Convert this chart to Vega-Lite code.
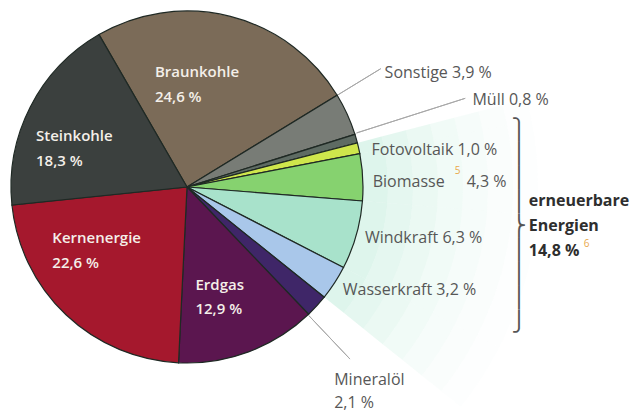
{
  "$schema": "https://vega.github.io/schema/vega-lite/v6.json",
  "width": 374,
  "height": 374,
  "autosize": {"type": "none"},
  "padding": {"left": 0, "top": 0, "right": 263, "bottom": 39},
  "background": "white",
  "config": {"view": {"stroke": null}, "font": "Open Sans"},
  "data": {
    "values": [
      {"name": "Braunkohle", "value": 24.6, "group": "konventionell"},
      {"name": "Sonstige", "value": 3.9, "group": "konventionell"},
      {"name": "Müll", "value": 0.8, "group": "konventionell"},
      {"name": "Fotovoltaik", "value": 1.0, "group": "erneuerbar"},
      {"name": "Biomasse", "value": 4.3, "group": "erneuerbar"},
      {"name": "Windkraft", "value": 6.3, "group": "erneuerbar"},
      {"name": "Wasserkraft", "value": 3.2, "group": "erneuerbar"},
      {"name": "Mineralöl", "value": 2.1, "group": "konventionell"},
      {"name": "Erdgas", "value": 12.9, "group": "konventionell"},
      {"name": "Kernenergie", "value": 22.6, "group": "konventionell"},
      {"name": "Steinkohle", "value": 18.3, "group": "konventionell"}
    ]
  },
  "transform": [
    {"window": [{"op": "row_number", "as": "idx"}]},
    {"joinaggregate": [{"op": "sum", "field": "value", "as": "groupSum"}], "groupby": ["group"]},
    {"calculate": "replace(format(datum.value, '.1f'), '.', ',') + ' %'", "as": "pct"},
    {"calculate": "datum.name + ' ' + datum.pct", "as": "lbl1"},
    {"calculate": "datum.name + '\\n' + datum.pct", "as": "lbl2"},
    {"calculate": "'erneuerbare\\nEnergien\\n' + replace(format(datum.groupSum, '.1f'), '.', ',') + ' %'", "as": "grp"}
  ],
  "encoding": {
    "theta": {"field": "value", "type": "quantitative", "stack": true, "scale": {"domain": [0, 100], "range": [-0.5236, 5.7596]}},
    "order": {"field": "idx", "type": "quantitative"}
  },
  "layer": [
    {"mark": {"type": "arc", "color": "#bdebd9", "strokeWidth": 0},
     "encoding": {"detail": {"field": "name"}, "radius": {"value": 201}, "radius2": {"value": 170},
       "opacity": {"condition": {"test": "datum.group === 'erneuerbar'", "value": 0.5}, "value": 0}}},
    {"mark": {"type": "arc", "color": "#bdebd9", "strokeWidth": 0},
     "encoding": {"detail": {"field": "name"}, "radius": {"value": 226}, "radius2": {"value": 201},
       "opacity": {"condition": {"test": "datum.group === 'erneuerbar'", "value": 0.4}, "value": 0}}},
    {"mark": {"type": "arc", "color": "#bdebd9", "strokeWidth": 0},
     "encoding": {"detail": {"field": "name"}, "radius": {"value": 251}, "radius2": {"value": 226},
       "opacity": {"condition": {"test": "datum.group === 'erneuerbar'", "value": 0.31}, "value": 0}}},
    {"mark": {"type": "arc", "color": "#bdebd9", "strokeWidth": 0},
     "encoding": {"detail": {"field": "name"}, "radius": {"value": 276}, "radius2": {"value": 251},
       "opacity": {"condition": {"test": "datum.group === 'erneuerbar'", "value": 0.22}, "value": 0}}},
    {"mark": {"type": "arc", "color": "#bdebd9", "strokeWidth": 0},
     "encoding": {"detail": {"field": "name"}, "radius": {"value": 301}, "radius2": {"value": 276},
       "opacity": {"condition": {"test": "datum.group === 'erneuerbar'", "value": 0.14}, "value": 0}}},
    {"mark": {"type": "arc", "color": "#bdebd9", "strokeWidth": 0},
     "encoding": {"detail": {"field": "name"}, "radius": {"value": 326}, "radius2": {"value": 301},
       "opacity": {"condition": {"test": "datum.group === 'erneuerbar'", "value": 0.08}, "value": 0}}},
    {"mark": {"type": "arc", "color": "#bdebd9", "strokeWidth": 0},
     "encoding": {"detail": {"field": "name"}, "radius": {"value": 351}, "radius2": {"value": 326},
       "opacity": {"condition": {"test": "datum.group === 'erneuerbar'", "value": 0.035}, "value": 0}}},
    {"mark": {"type": "arc", "stroke": "#1f2924", "strokeWidth": 1.2},
     "encoding": {
       "radius": {"value": 176},
       "color": {"field": "name", "type": "nominal", "legend": null,
         "scale": {
           "domain": ["Braunkohle", "Sonstige", "Müll", "Fotovoltaik", "Biomasse", "Windkraft", "Wasserkraft", "Mineralöl", "Erdgas", "Kernenergie", "Steinkohle"],
           "range": ["#7b6b58", "#787c76", "#5e6b63", "#cfe64c", "#86d26f", "#a8e2cb", "#a9c7ea", "#3f2668", "#5b164f", "#a5182d", "#3b403e"]
         }}
     }},
    {"mark": {"type": "arc", "fill": "transparent", "stroke": "#a8a8a8", "strokeWidth": 1, "padAngle": 3, "thetaOffset": -0.122, "theta2Offset": -0.122},
     "encoding": {"detail": {"field": "name"}, "radius": {"value": 227}, "radius2": {"value": 177},
       "strokeOpacity": {"condition": {"test": "datum.name === 'Sonstige'", "value": 1}, "value": 0}}},
    {"mark": {"type": "arc", "fill": "transparent", "stroke": "#a8a8a8", "strokeWidth": 1, "padAngle": 3, "thetaOffset": -0.03, "theta2Offset": -0.03},
     "encoding": {"detail": {"field": "name"}, "radius": {"value": 292}, "radius2": {"value": 178},
       "strokeOpacity": {"condition": {"test": "datum.name === 'Müll'", "value": 1}, "value": 0}}},
    {"mark": {"type": "arc", "fill": "transparent", "stroke": "#a8a8a8", "strokeWidth": 1, "padAngle": 3, "thetaOffset": 0.07, "theta2Offset": 0.07},
     "encoding": {"detail": {"field": "name"}, "radius": {"value": 237}, "radius2": {"value": 177},
       "strokeOpacity": {"condition": {"test": "datum.name === 'Mineralöl'", "value": 1}, "value": 0}}},

    {"mark": {"type": "text", "align": "left", "baseline": "middle", "fontSize": 15, "fontWeight": 600, "color": "#f4efe9", "lineBreak": "\n", "lineHeight": 25, "dx": -58, "dy": -13},
     "encoding": {"detail": {"field": "name"}, "radius": {"value": 105},
       "text": {"condition": {"test": "datum.name === 'Braunkohle'", "field": "lbl2"}, "value": ""}}},
    {"mark": {"type": "text", "align": "left", "baseline": "middle", "fontSize": 15, "fontWeight": 600, "color": "#f4efe9", "lineBreak": "\n", "lineHeight": 25, "dx": -53, "dy": -1},
     "encoding": {"detail": {"field": "name"}, "radius": {"value": 110},
       "text": {"condition": {"test": "datum.name === 'Steinkohle'", "field": "lbl2"}, "value": ""}}},
    {"mark": {"type": "text", "align": "left", "baseline": "middle", "fontSize": 15, "fontWeight": 600, "color": "#f4efe9", "lineBreak": "\n", "lineHeight": 25, "dx": -59, "dy": -29},
     "encoding": {"detail": {"field": "name"}, "radius": {"value": 110},
       "text": {"condition": {"test": "datum.name === 'Kernenergie'", "field": "lbl2"}, "value": ""}}},
    {"mark": {"type": "text", "align": "left", "baseline": "middle", "fontSize": 15, "fontWeight": 600, "color": "#f4efe9", "lineBreak": "\n", "lineHeight": 24, "dx": -30, "dy": -5},
     "encoding": {"detail": {"field": "name"}, "radius": {"value": 110},
       "text": {"condition": {"test": "datum.name === 'Erdgas'", "field": "lbl2"}, "value": ""}}},

    {"mark": {"type": "text", "align": "left", "baseline": "middle", "fontSize": 16, "color": "#575757", "dx": -10, "dy": -20},
     "encoding": {"detail": {"field": "name"}, "radius": {"value": 228},
       "text": {"condition": {"test": "datum.name === 'Sonstige'", "field": "lbl1"}, "value": ""}}},
    {"mark": {"type": "text", "align": "left", "baseline": "middle", "fontSize": 16, "color": "#575757", "dx": -2, "dy": -5},
     "encoding": {"detail": {"field": "name"}, "radius": {"value": 299},
       "text": {"condition": {"test": "datum.name === 'Müll'", "field": "lbl1"}, "value": ""}}},
    {"mark": {"type": "text", "align": "left", "baseline": "middle", "fontSize": 16, "color": "#575757", "dx": 1, "dy": 4},
     "encoding": {"detail": {"field": "name"}, "radius": {"value": 188},
       "text": {"condition": {"test": "datum.name === 'Fotovoltaik'", "field": "lbl1"}, "value": ""}}},
    {"mark": {"type": "text", "align": "left", "baseline": "middle", "fontSize": 16, "color": "#575757", "dx": 0, "dy": 5},
     "encoding": {"detail": {"field": "name"}, "radius": {"value": 186},
       "text": {"condition": {"test": "datum.name === 'Biomasse'", "field": "name"}, "value": ""}}},
    {"mark": {"type": "text", "align": "left", "baseline": "middle", "fontSize": 16, "color": "#575757", "dx": 94, "dy": 5},
     "encoding": {"detail": {"field": "name"}, "radius": {"value": 186},
       "text": {"condition": {"test": "datum.name === 'Biomasse'", "field": "pct"}, "value": ""}}},
    {"mark": {"type": "text", "align": "left", "baseline": "middle", "fontSize": 10, "color": "#e9a84a", "dx": 82, "dy": -6},
     "encoding": {"detail": {"field": "name"}, "radius": {"value": 186},
       "text": {"condition": {"test": "datum.name === 'Biomasse'", "value": "5"}, "value": ""}}},
    {"mark": {"type": "text", "align": "left", "baseline": "middle", "fontSize": 16, "color": "#575757", "dx": 0, "dy": 0},
     "encoding": {"detail": {"field": "name"}, "radius": {"value": 185},
       "text": {"condition": {"test": "datum.name === 'Windkraft'", "field": "lbl1"}, "value": ""}}},
    {"mark": {"type": "text", "align": "left", "baseline": "middle", "fontSize": 16, "color": "#575757", "dx": -1, "dy": 1},
     "encoding": {"detail": {"field": "name"}, "radius": {"value": 187},
       "text": {"condition": {"test": "datum.name === 'Wasserkraft'", "field": "lbl1"}, "value": ""}}},
    {"mark": {"type": "text", "align": "left", "baseline": "middle", "fontSize": 16, "color": "#575757", "lineBreak": "\n", "lineHeight": 23, "dx": -37, "dy": 24},
     "encoding": {"detail": {"field": "name"}, "radius": {"value": 250},
       "text": {"condition": {"test": "datum.name === 'Mineralöl'", "field": "lbl2"}, "value": ""}}},

    {"mark": {"type": "text", "align": "left", "baseline": "middle", "fontSize": 16, "fontWeight": 700, "color": "#2e2e2e", "lineBreak": "\n", "lineHeight": 25, "dx": 10, "dy": -81},
     "encoding": {"detail": {"field": "name"}, "radius": {"value": 345},
       "text": {"condition": {"test": "datum.name === 'Windkraft'", "field": "grp"}, "value": ""}}},
    {"mark": {"type": "text", "align": "left", "baseline": "middle", "fontSize": 10, "color": "#e9a84a", "dx": 65, "dy": -38},
     "encoding": {"detail": {"field": "name"}, "radius": {"value": 345},
       "text": {"condition": {"test": "datum.name === 'Windkraft'", "value": "6"}, "value": ""}}},
    {"mark": {"type": "text", "align": "center", "baseline": "middle", "font": "DejaVu Sans", "fontSize": 20, "color": "#555555", "lineBreak": "\n", "lineHeight": 24, "dx": 0, "dy": -152},
     "encoding": {"detail": {"field": "name"}, "radius": {"value": 345},
       "text": {"condition": {"test": "datum.name === 'Windkraft'", "value": "⎫\n⎪\n⎪\n⎪\n⎬\n⎪\n⎪\n⎪\n⎭"}, "value": ""}}}
  ]
}
